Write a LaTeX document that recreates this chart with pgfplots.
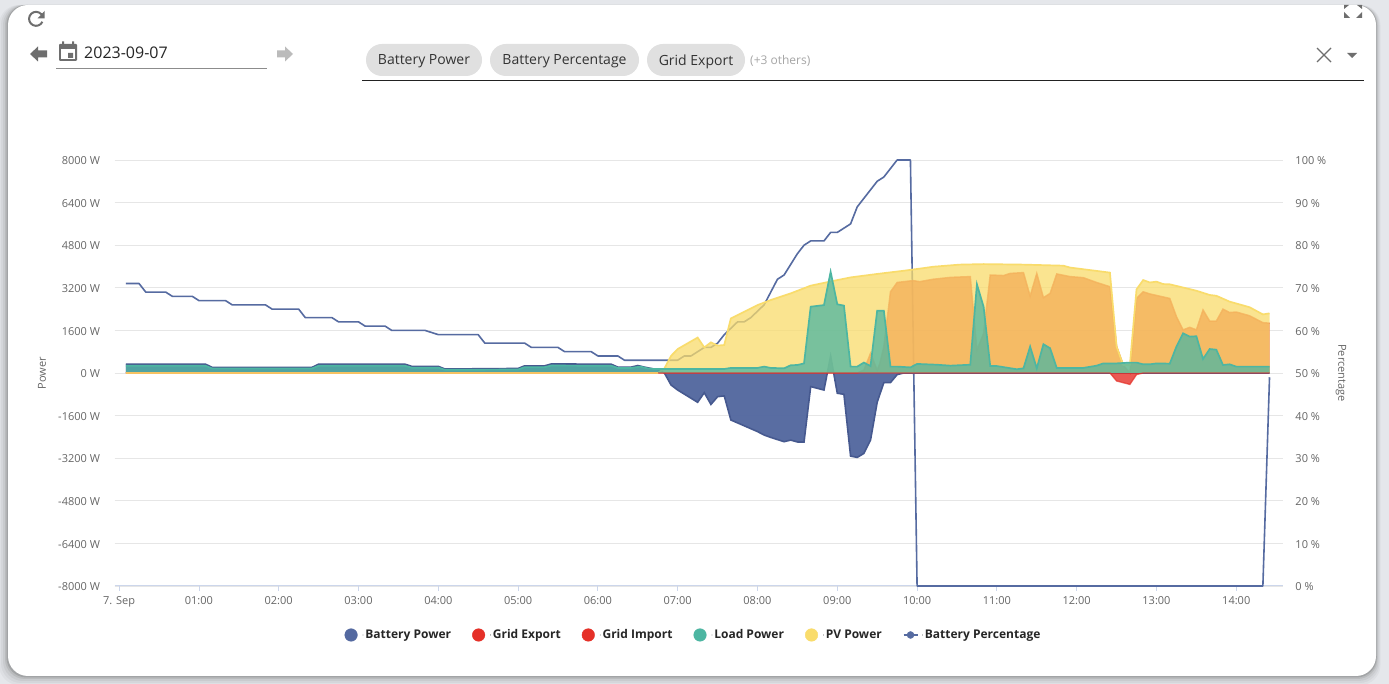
\documentclass[border=0pt]{standalone}
\usepackage{pgfplots}
\usepackage{pgfplotstable}
\usepackage{fontspec}
\setmainfont{Open Sans}
\pgfplotsset{compat=1.18}
\definecolor{cBat}{HTML}{5469A0}
\definecolor{cBatL}{HTML}{46598F}
\definecolor{cPct}{HTML}{566BA1}
\definecolor{cRed}{HTML}{E53028}
\definecolor{cTeal}{HTML}{4DB6A2}
\definecolor{cYel}{HTML}{F9DC6C}
\definecolor{cGrid}{HTML}{E6E6E6}
\definecolor{cAxis}{HTML}{CCD6EB}
\definecolor{cTick}{HTML}{666666}
\definecolor{cChip}{HTML}{E0E0E0}
\definecolor{cIcon}{HTML}{6E6E6E}
\definecolor{cPage}{HTML}{E5E7EB}
\definecolor{cNav}{HTML}{BBBBBB}
\definecolor{cUnder}{HTML}{8C8C8C}
\definecolor{cRule}{HTML}{222222}
\pgfplotstableread{
min pct
5 71
15 71
20 69
35 69
40 68
55 68
60 67
80 67
85 66
110 66
115 65
135 65
140 63
160 63
165 62
180 62
185 61
200 61
205 60
230 60
240 59
270 59
275 57
305 57
310 56
330 56
335 55
355 55
360 54
375 54
380 53
420 53
425 54
430 54
440 56
445 56
450 57
455 59
465 62
470 62
475 63
485 66
490 69
495 72
500 73
510 78
515 80
520 81
530 81
535 83
540 83
545 84
550 85
555 89
570 95
575 96
585 100
595 100
600 0
860 0
865 49
}\tPct
\pgfplotstableread{
min w
5 330
65 330
70 210
145 210
150 330
215 330
220 250
240 250
245 150
300 170
305 270
320 270
325 340
370 330
375 220
385 220
390 280
395 220
400 170
405 130
410 0
415 -450
420 -640
435 -1100
440 -740
445 -1180
450 -890
455 -860
460 -1765
480 -2200
485 -2330
490 -2420
500 -2580
505 -2520
510 -2590
515 -2590
520 -510
530 -640
535 640
540 -760
545 -800
550 -3120
555 -3170
560 -3020
565 -2520
570 -1100
575 -360
580 -360
585 -60
590 0
865 0
}\tBat
\pgfplotstableread{
min w
5 0
555 0
560 110
565 740
570 110
572 360
575 990
580 3050
585 3400
597 3470
602 3430
612 3520
625 3590
640 3620
645 860
650 1490
655 3680
665 3660
670 3740
680 3770
685 2890
690 3740
695 2830
700 2990
705 3720
715 3620
725 3580
735 3400
745 3240
750 990
755 300
760 0
765 2800
770 3050
775 2970
790 2800
795 2120
800 1620
805 1715
810 1620
815 2370
820 1950
825 1950
830 2400
835 2270
840 2290
850 2150
860 1890
865 1870
}\tExp
\pgfplotstableread{
min w
5 0
745 0
750 -300
760 -430
765 -60
770 0
865 0
}\tImp
\pgfplotstableread{
min w
5 270
65 270
70 170
145 170
150 270
215 270
220 200
240 200
245 120
300 130
305 220
320 220
325 280
370 270
375 190
385 190
392 240
397 175
402 150
455 150
460 190
480 190
485 240
490 190
500 175
505 290
510 300
515 360
520 2490
530 2550
535 3800
540 2580
545 2530
550 240
555 240
560 390
565 260
570 2340
575 2340
580 240
585 240
595 210
600 340
615 310
625 275
640 310
645 3330
650 2490
655 260
660 260
675 140
680 175
685 990
690 175
695 1080
700 930
705 190
725 190
735 275
740 360
750 360
760 390
765 390
770 325
775 325
780 360
790 350
795 990
800 1490
805 1365
810 1380
815 525
820 900
825 875
830 300
835 325
840 240
865 240
}\tLoad
\pgfplotstableread{
min w
5 0
405 0
410 170
415 640
420 900
435 1330
440 960
445 1150
450 1030
455 1050
460 2050
480 2550
490 2740
505 2990
520 3280
540 3490
550 3590
570 3720
590 3840
605 3940
612 3990
632 4070
650 4090
680 4070
710 4030
715 3960
745 3770
750 990
755 300
760 300
765 3140
770 3490
775 3400
780 3430
785 3340
790 3330
810 3090
820 2930
825 2900
835 2680
850 2470
860 2200
865 2240
}\tPV
\pgfplotstableread{
min w
5 0
405 0
}\tPVzero
\pgfplotsset{
  base/.style={
    at={(114.5pt,98pt)},anchor=south west,
    scale only axis,width=1168.5pt,height=426pt,
    xmin=-3.46,xmax=875.1,
    xtick={0,60,...,840},
    no markers,
    tick label style={font=\fontsize{11}{13}\selectfont,text=cTick},
    label style={font=\fontsize{11}{13}\selectfont,text=cTick},
  },
  farea/.style={draw=none,fill=#1,forget plot},
}
\begin{document}
\begin{tikzpicture}
\path[use as bounding box] (0pt,0pt) rectangle (1389pt,684pt);
\fill[cPage] (0pt,0pt) rectangle (1389pt,684pt);
\begin{scope}[x=1pt,y=-1pt,shift={(0pt,684pt)}]
  \foreach \d/\o in {9/0.03,7/0.04,5/0.05,3/0.08,1.5/0.12}{
    \fill[black,opacity=\o,rounded corners=20pt] (8-\d,5) rectangle (1376+\d*0.5,676+\d);
  }
  \fill[white,rounded corners=20pt] (8,5) rectangle (1376,676);
  % refresh icon
  \draw[cIcon,line width=2pt] (42.4,21.8) arc[start angle=25,end angle=340,radius=7];
  \fill[cIcon] (44.5,11) -- (44.5,18.5) -- (37.5,18.5) -- cycle;
  % nav arrows
  \fill[cIcon] (30,54) -- (38,46.5) -- (38,50.5) -- (47,50.5) -- (47,57.5) -- (38,57.5) -- (38,61.5) -- cycle;
  \fill[cNav] (293,54) -- (285,46.5) -- (285,50.5) -- (277,50.5) -- (277,57.5) -- (285,57.5) -- (285,61.5) -- cycle;
  % calendar
  \fill[cIcon,rounded corners=1pt] (59,44) rectangle (77,61);
  \fill[white] (61,49) rectangle (75,59);
  \fill[cIcon] (62,41.5) rectangle (64,45) (72,41.5) rectangle (74,45) (68,53) rectangle (73,58);
  \node[anchor=west,inner sep=0pt,text=black!85,font=\fontsize{16}{18}\selectfont] at (84,53) {2023-09-07};
  \draw[cUnder,line width=0.8pt] (56,68.5) -- (267,68.5);
  % chips
  \fill[cChip,rounded corners=16pt] (366,44) rectangle (482,76);
  \fill[cChip,rounded corners=16pt] (490,44) rectangle (639,76);
  \fill[cChip,rounded corners=16pt] (647,44) rectangle (745,76);
  \node[text=black!80,font=\fontsize{14}{16}\selectfont] at (424,61.5) {Battery Power};
  \node[text=black!80,font=\fontsize{14}{16}\selectfont] at (564.5,61.5) {Battery Percentage};
  \node[text=black!80,font=\fontsize{14}{16}\selectfont] at (696,61.5) {Grid Export};
  \node[anchor=west,inner sep=0pt,text=black!35,font=\fontsize{12}{14}\selectfont] at (750,60.5) {(+3 others)};
  \draw[cRule,line width=1pt] (362,81) -- (1364,81);
  \draw[cIcon,line width=1.3pt] (1317,48) -- (1331,62) (1331,48) -- (1317,62);
  \fill[cIcon] (1347,53) -- (1357,53) -- (1352,58) -- cycle;
  % expand icon
  \fill[cIcon] (1344,18) -- (1344,12) -- (1350,18) -- cycle (1362,18) -- (1362,12) -- (1356,18) -- cycle;
  \fill[cIcon] (1344,5) -- (1349,5) -- (1344,9) -- cycle (1362,5) -- (1357,5) -- (1362,9) -- cycle;
\end{scope}

% percentage axis, underneath
\begin{axis}[base,
  ymin=0,ymax=100,
  ytick={0,10,...,100},
  yticklabels={0 \%,10 \%,20 \%,30 \%,40 \%,50 \%,60 \%,70 \%,80 \%,90 \%,100 \%},
  xticklabels={7. Sep,01:00,02:00,03:00,04:00,05:00,06:00,07:00,08:00,09:00,10:00,11:00,12:00,13:00,14:00},
  axis x line*=bottom,
  axis y line*=right,
  x axis line style={-,color=cAxis,line width=1pt},
  y axis line style={-,draw=none},
  ymajorgrids,
  grid style={cGrid,line width=0.9pt},
  xtick style={color=cAxis,line width=0.8pt},
  xtick align=outside,
  major tick length=5pt,
  ytick style={draw=none},
  xticklabel style={yshift=-2pt},
  yticklabel style={anchor=west,xshift=9pt,yshift=-0.8pt},
  ylabel={Percentage},
  y label style={at={(axis description cs:1.0496,0.5)},anchor=center,rotate=180},
  clip=false,
]
\addplot[cPct,line width=1.6pt,line join=round] table[x=min,y=pct] {\tPct};
\end{axis}

% power axis, on top
\begin{axis}[base,
  ymin=-8000,ymax=8000,
  ytick={-8000,-6400,-4800,-3200,-1600,0,1600,3200,4800,6400,8000},
  yticklabels={-8000 W,-6400 W,-4800 W,-3200 W,-1600 W,0 W,1600 W,3200 W,4800 W,6400 W,8000 W},
  xtick=\empty,
  axis x line=none,
  axis y line*=left,
  y axis line style={-,draw=none},
  ytick style={draw=none},
  yticklabel style={anchor=east,xshift=-11pt,yshift=-0.8pt},
  ylabel={Power},
  y label style={at={(axis description cs:-0.062,0.5)},anchor=center},
  legend columns=-1,
  legend style={at={(0.4955,-0.115)},anchor=center,draw=none,fill=none,
    font=\bfseries\fontsize{12}{14}\selectfont,text=black!85,
    /tikz/every even column/.append style={column sep=19pt}},
]
\addplot[farea=cBat,fill opacity=0.97] table[x=min,y=w] {\tBat} \closedcycle;
\addplot[cBatL,line width=1.6pt,forget plot] table[x=min,y=w] {\tBat};
\addplot[farea=cRed,fill opacity=0.8] table[x=min,y=w] {\tExp} \closedcycle;
\addplot[cRed,opacity=0.75,line width=1.5pt,forget plot] table[x=min,y=w] {\tExp};
\addplot[farea=cRed,fill opacity=0.8] table[x=min,y=w] {\tImp} \closedcycle;
\addplot[farea=cYel,fill opacity=0.75] table[x=min,y=w] {\tPV} \closedcycle;
\addplot[cYel,line width=1.7pt,forget plot] table[x=min,y=w] {\tPV};
\addplot[farea=cTeal,fill opacity=0.75] table[x=min,y=w] {\tLoad} \closedcycle;
\addplot[cTeal,line width=1.7pt,forget plot] table[x=min,y=w] {\tLoad};
\addplot[cRed,opacity=0.7,line width=1.3pt,forget plot] table[x=min,y=w] {\tImp};
\addplot[cYel!85!cRed,line width=1.5pt,forget plot] table[x=min,y=w] {\tPVzero};
\addlegendimage{legend image code/.code={\fill[cBat] (0pt,0pt) circle (6.3pt);\path (12pt,0pt) circle (0.1pt);}}
\addlegendentry{Battery Power}
\addlegendimage{legend image code/.code={\fill[cRed] (0pt,0pt) circle (6.3pt);\path (12pt,0pt) circle (0.1pt);}}
\addlegendentry{Grid Export}
\addlegendimage{legend image code/.code={\fill[cRed] (0pt,0pt) circle (6.3pt);\path (12pt,0pt) circle (0.1pt);}}
\addlegendentry{Grid Import}
\addlegendimage{legend image code/.code={\fill[cTeal] (0pt,0pt) circle (6.3pt);\path (12pt,0pt) circle (0.1pt);}}
\addlegendentry{Load Power}
\addlegendimage{legend image code/.code={\fill[cYel] (0pt,0pt) circle (6.3pt);\path (12pt,0pt) circle (0.1pt);}}
\addlegendentry{PV Power}
\addlegendimage{legend image code/.code={\draw[cPct,line width=1.5pt] (-7pt,0pt) -- (7pt,0pt);\fill[cPct] (0pt,0pt) circle (3.5pt);\path (12pt,0pt) circle (0.1pt);}}
\addlegendentry{Battery Percentage}
\end{axis}
\end{tikzpicture}
\end{document}
